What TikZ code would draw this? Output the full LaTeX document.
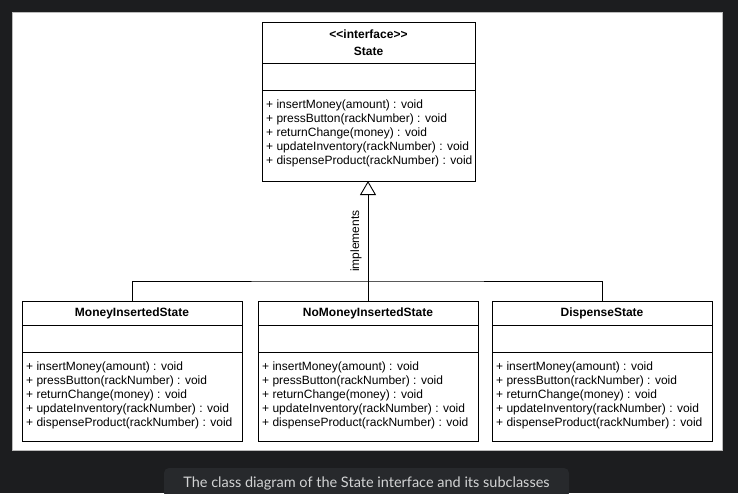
\documentclass[tikz,border=0pt]{standalone}
\usepackage{fontspec}
\newfontfamily\umlfont{Liberation Sans}
\newfontfamily\capfont{Lato}
\usetikzlibrary{positioning,arrows.meta}
\definecolor{pagebg}{HTML}{1C1D1F}
\definecolor{capbg}{HTML}{27292C}
\definecolor{captext}{HTML}{D2D3D4}
\definecolor{paneledge}{HTML}{BBBBBB}
\newcommand{\statemethods}{+ insertMoney(amount) : void\\
  + pressButton(rackNumber) : void\\
  + returnChange(money) : void\\
  + updateInventory(rackNumber) : void\\
  + dispenseProduct(rackNumber) : void}

\begin{document}
\begin{tikzpicture}[x=1pt,y=-1pt,
  every node/.style={font=\umlfont\fontsize{12}{14}\selectfont},
  line/.style={draw, line width=0.9pt},
  part/.style={line, inner sep=0pt, outer sep=0pt, minimum width=220pt, anchor=north west},
  head/.style={part, minimum height=24pt, font=\umlfont\bfseries\fontsize{12}{17}\selectfont},
  attrs/.style={part, minimum height=27pt},
  ops/.style={part, minimum height=89pt},
  oplist/.style={anchor=north west, align=left, inner sep=0pt},
  caption/.style={fill=capbg, rounded corners=5pt, text=captext, minimum width=405pt,
    minimum height=30pt, font=\capfont\fontsize{14.5}{16}\selectfont},
  ]
  \useasboundingbox (0,0) rectangle (738,493);
  \fill[pagebg] (0,0) rectangle (738,493);
  \filldraw[fill=white, draw=paneledge, line width=0.6pt] (12,12) rectangle (722,450);

  % State
  \node[head, minimum width=213pt, minimum height=41pt, align=center] (sh) at (262,22)
    {<<interface>>\\State};
  \node[attrs, minimum width=213pt, below=0pt of sh] (sa) {};
  \node[ops, minimum width=213pt, minimum height=91pt, below=0pt of sa] (so) {};
  \node[oplist] (sot) at ([shift={(4,9.5)}]so.north west) {\statemethods};

  % MoneyInsertedState
  \node[head] (mih) at (22,301) {MoneyInsertedState};
  \node[attrs, below=0pt of mih] (mia) {};
  \node[ops, below=0pt of mia] (mio) {};
  \node[oplist] (miot) at ([shift={(4,9.5)}]mio.north west) {\statemethods};

  % NoMoneyInsertedState
  \node[head] (nmh) at (258,301) {NoMoneyInsertedState};
  \node[attrs, below=0pt of nmh] (nma) {};
  \node[ops, below=0pt of nma] (nmo) {};
  \node[oplist] (nmot) at ([shift={(4,9.5)}]nmo.north west) {\statemethods};

  % DispenseState
  \node[head] (dsh) at (492,301) {DispenseState};
  \node[attrs, below=0pt of dsh] (dsa) {};
  \node[ops, below=0pt of dsa] (dso) {};
  \node[oplist] (dsot) at ([shift={(4,9.5)}]dso.north west) {\statemethods};

  % realisation
  \coordinate (bus) at (368,281);
  \draw[line] (mih.north) |- (bus) -| (dsh.north);
  \draw[line, -{Triangle[open, length=14pt, width=16pt]}] (nmh.north) -- (nmh.north |- so.south)
    node[midway, sloped, above, inner sep=6pt] (impl) {implements};

  \node[caption] (cap) at (366.5,483)
    {The class diagram of the State interface and its subclasses};
\end{tikzpicture}
\end{document}
